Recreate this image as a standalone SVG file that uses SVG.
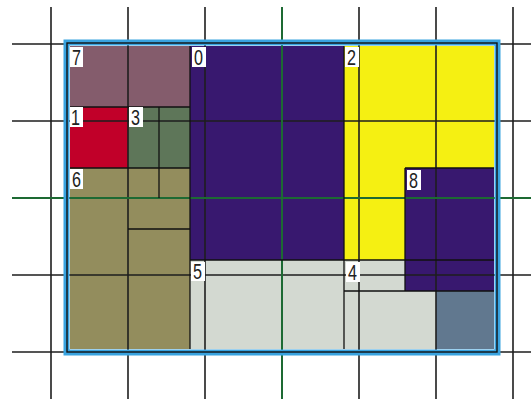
<svg xmlns="http://www.w3.org/2000/svg" width="531" height="399" viewBox="0 0 531 399">
<style>
.grid{stroke:#1e1e1e;stroke-width:1.6;fill:none}
.gridg{stroke:#1d6a33;stroke-width:2;fill:none}
.edge{stroke:#111;stroke-width:1.3;fill:none}
.lbl rect{fill:#fff}
.lbl text{font-family:"Liberation Sans",Arial,sans-serif;font-size:22px;fill:#222}
</style>
<rect x="0" y="0" width="531" height="399" fill="#fff"/>
<g id="cells">
<g id="cell-7"><rect x="70" y="46" width="120" height="61" fill="#845c6c"/></g>
<g id="cell-0"><rect x="190" y="46" width="154" height="214" fill="#38186f"/></g>
<g id="cell-2"><rect x="344" y="46" width="150" height="214" fill="#f5f012"/></g>
<g id="cell-1"><rect x="70" y="107" width="58" height="61" fill="#c10029"/></g>
<g id="cell-3"><rect x="128" y="107" width="62" height="61" fill="#5e7659"/></g>
<g id="cell-6"><rect x="70" y="168" width="120" height="181" fill="#938d5d"/></g>
<g id="cell-5"><rect x="190" y="260" width="154" height="89" fill="#d3d9d1"/></g>
<g id="cell-4"><rect x="344" y="260" width="150" height="89" fill="#d3d9d1"/></g>
<g id="cell-8"><rect x="405" y="168" width="89" height="123" fill="#38186f"/></g>
<g id="cell-9"><rect x="436" y="291" width="58" height="58" fill="#61788f"/></g>
</g>
<g id="grid">
<path class="grid" d="M51 7V399M128 7V399M205 7V399M359 7V399M436 7V399M513 7V399M12 44H531M12 121H531M12 275H531M12 352H531"/>
<path class="gridg" d="M282 7V399M12 198H531"/>
</g>
<g id="edges">
<path class="edge" d="M190 46V349M344 46V349M70 107H190M70 168H190M159 107V198M128 229H190M190 260H494M405 168H494M405 168V291M344 291H494"/>
</g>
<g id="frame">
<rect x="66.5" y="42.5" width="431" height="310" fill="none" stroke="#39a3e0" stroke-width="6"/>
<rect x="67" y="43" width="430" height="309" fill="none" stroke="#111" stroke-width="1.4"/>
</g>
<g id="labels" class="lbl">
<g id="label-7"><rect x="70" y="47" width="13" height="20"/><text x="72" y="65" textLength="9" lengthAdjust="spacingAndGlyphs">7</text></g>
<g id="label-0"><rect x="192" y="47" width="14" height="20"/><text x="194" y="65" textLength="9" lengthAdjust="spacingAndGlyphs">0</text></g>
<g id="label-2"><rect x="345" y="47" width="14" height="20"/><text x="347" y="65" textLength="9" lengthAdjust="spacingAndGlyphs">2</text></g>
<g id="label-1"><rect x="70" y="107" width="13" height="20"/><text x="71" y="125" textLength="9" lengthAdjust="spacingAndGlyphs">1</text></g>
<g id="label-3"><rect x="129" y="107" width="14" height="20"/><text x="131" y="125" textLength="9" lengthAdjust="spacingAndGlyphs">3</text></g>
<g id="label-6"><rect x="70" y="169" width="13" height="20"/><text x="72" y="187" textLength="9" lengthAdjust="spacingAndGlyphs">6</text></g>
<g id="label-8"><rect x="407" y="170" width="14" height="20"/><text x="409" y="188" textLength="9" lengthAdjust="spacingAndGlyphs">8</text></g>
<g id="label-5"><rect x="191" y="262" width="14" height="19"/><text x="193" y="279" textLength="9" lengthAdjust="spacingAndGlyphs">5</text></g>
<g id="label-4"><rect x="346" y="262" width="14" height="20"/><text x="348" y="280" textLength="9" lengthAdjust="spacingAndGlyphs">4</text></g>
</g>
</svg>
